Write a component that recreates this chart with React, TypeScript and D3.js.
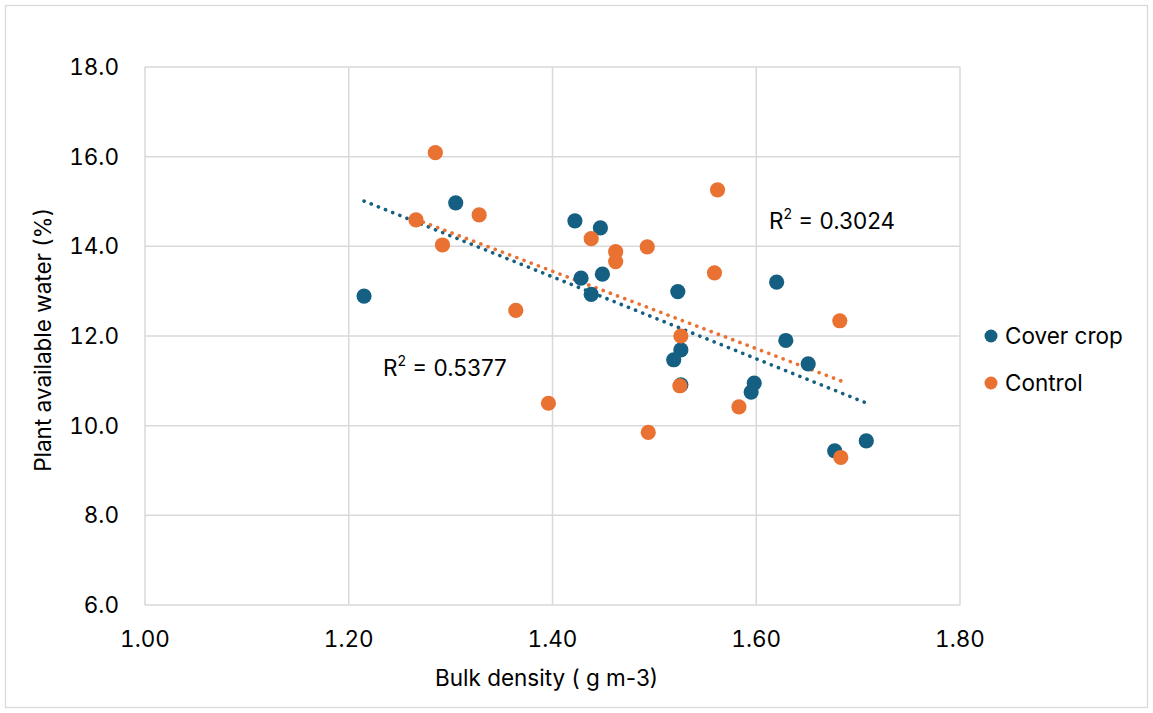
import React, { useEffect, useRef } from "react";
import * as d3 from "d3";

// Bulk density (g m-3) vs plant available water (%)
const coverX = [1.215, 1.305, 1.422, 1.447, 1.428, 1.449, 1.438, 1.523, 1.526, 1.519, 1.526, 1.598, 1.595, 1.620, 1.629, 1.651, 1.677, 1.708];
const coverY = [12.89, 14.97, 14.57, 14.41, 13.29, 13.38, 12.93, 12.99, 11.69, 11.47, 10.91, 10.95, 10.75, 13.20, 11.90, 11.38, 9.44, 9.66];

const controlX = [1.285, 1.266, 1.328, 1.292, 1.364, 1.438, 1.462, 1.462, 1.493, 1.559, 1.562, 1.682, 1.526, 1.525, 1.396, 1.583, 1.494, 1.683];
const controlY = [16.09, 14.59, 14.70, 14.03, 12.57, 14.17, 13.88, 13.66, 13.99, 13.41, 15.26, 12.34, 12.00, 10.89, 10.50, 10.42, 9.85, 9.29];

const xTicks = [1.0, 1.2, 1.4, 1.6, 1.8];
const yTicks = [6, 8, 10, 12, 14, 16, 18];

const seriesNames = ["Cover crop", "Control"];
const seriesColors = ["#156082", "#E97132"];
const r2Labels = ["0.5377", "0.3024"];

const W = 1153;
const H = 713;
const FONT = "Inter, 'Noto Sans', sans-serif";
const FS = 22.5;

function fitLine(xs: number[], ys: number[]) {
  const mx = d3.mean(xs)!;
  const my = d3.mean(ys)!;
  let sxy = 0;
  let sxx = 0;
  xs.forEach((x, i) => {
    sxy += (x - mx) * (ys[i] - my);
    sxx += (x - mx) * (x - mx);
  });
  const slope = sxy / sxx;
  return { slope, intercept: my - slope * mx };
}

const App = () => {
  const svgRef = useRef<SVGSVGElement>(null);

  useEffect(() => {
    const svg = d3.select(svgRef.current);
    svg.selectAll("*").remove();

    const margin = { top: 67, right: 193, bottom: 108, left: 145 };

    const x = d3.scaleLinear().domain([1.0, 1.8]).range([margin.left, W - margin.right]);
    const y = d3.scaleLinear().domain([6, 18]).range([H - margin.bottom, margin.top]);

    // chart frame
    svg.append("rect")
      .attr("x", 5.5).attr("y", 5.5)
      .attr("width", W - 11).attr("height", H - 11)
      .attr("fill", "#fff").attr("stroke", "#D9D9D9").attr("stroke-width", 1.3);

    // gridlines
    const grid = svg.append("g").attr("stroke", "#D9D9D9").attr("stroke-width", 1.5);
    grid.selectAll(".gx").data(xTicks).enter().append("line")
      .attr("x1", (d) => x(d)).attr("x2", (d) => x(d))
      .attr("y1", y(6)).attr("y2", y(18));
    grid.selectAll(".gy").data(yTicks).enter().append("line")
      .attr("x1", x(1.0)).attr("x2", x(1.8))
      .attr("y1", (d) => y(d)).attr("y2", (d) => y(d));

    // tick labels
    svg.append("g").selectAll("text").data(xTicks).enter().append("text")
      .attr("x", (d) => x(d)).attr("y", y(6) + 42)
      .attr("text-anchor", "middle")
      .attr("font-family", FONT).attr("font-size", FS).attr("fill", "#000")
      .style("font-variant-numeric", "tabular-nums")
      .text((d) => d3.format(".2f")(d));
    svg.append("g").selectAll("text").data(yTicks).enter().append("text")
      .attr("x", x(1.0) - 26).attr("y", (d) => y(d)).attr("dy", "0.36em")
      .attr("text-anchor", "end")
      .attr("font-family", FONT).attr("font-size", FS).attr("fill", "#000")
      .style("font-variant-numeric", "tabular-nums")
      .text((d) => d3.format(".1f")(d));

    // axis titles
    svg.append("text")
      .attr("x", (x(1.0) + x(1.8)) / 2 - 6).attr("y", 686)
      .attr("text-anchor", "middle")
      .attr("font-family", FONT).attr("font-size", FS)
      .text("Bulk density ( g m-3)");
    svg.append("text")
      .attr("transform", `translate(51,${(y(6) + y(18)) / 2 + 4}) rotate(-90)`)
      .attr("text-anchor", "middle")
      .attr("font-family", FONT).attr("font-size", FS)
      .text("Plant available water (%)");

    const series = [
      { xs: coverX, ys: coverY },
      { xs: controlX, ys: controlY },
    ];

    // trendlines
    series.forEach((s, i) => {
      const { slope, intercept } = fitLine(s.xs, s.ys);
      const [x0, x1] = d3.extent(s.xs) as [number, number];
      svg.append("line")
        .attr("x1", x(x0)).attr("y1", y(slope * x0 + intercept))
        .attr("x2", x(x1)).attr("y2", y(slope * x1 + intercept))
        .attr("stroke", seriesColors[i]).attr("stroke-width", 3.6)
        .attr("stroke-linecap", "round").attr("stroke-dasharray", "0.1 7.6");
    });

    // points
    series.forEach((s, i) => {
      svg.append("g").selectAll("circle").data(s.xs).enter().append("circle")
        .attr("cx", (d) => x(d)).attr("cy", (_d, j) => y(s.ys[j]))
        .attr("r", 7.6).attr("fill", seriesColors[i]);
    });

    // R² labels
    const r2Pos = [
      { x: 383, y: 376 },
      { x: 769, y: 229 },
    ];
    r2Labels.forEach((lab, i) => {
      const t = svg.append("text")
        .attr("x", r2Pos[i].x).attr("y", r2Pos[i].y)
        .attr("font-family", FONT).attr("font-size", FS).attr("fill", "#000");
      t.append("tspan").text("R");
      t.append("tspan").attr("font-size", 14).attr("dy", -10).text("2");
      t.append("tspan").attr("dy", 10).text(` = ${lab}`);
    });

    // legend
    const leg = svg.append("g");
    seriesNames.forEach((name, i) => {
      const ly = 336 + i * 47;
      leg.append("circle").attr("cx", 991).attr("cy", ly).attr("r", 6.5).attr("fill", seriesColors[i]);
      leg.append("text").attr("x", 1005).attr("y", ly).attr("dy", "0.36em")
        .attr("font-family", FONT).attr("font-size", FS).attr("fill", "#000")
        .text(name);
    });
  }, []);

  return (
    <svg
      ref={svgRef}
      width={W}
      height={H}
      style={{ position: "absolute", left: 0, top: 0 }}
    />
  );
};

export default App;
